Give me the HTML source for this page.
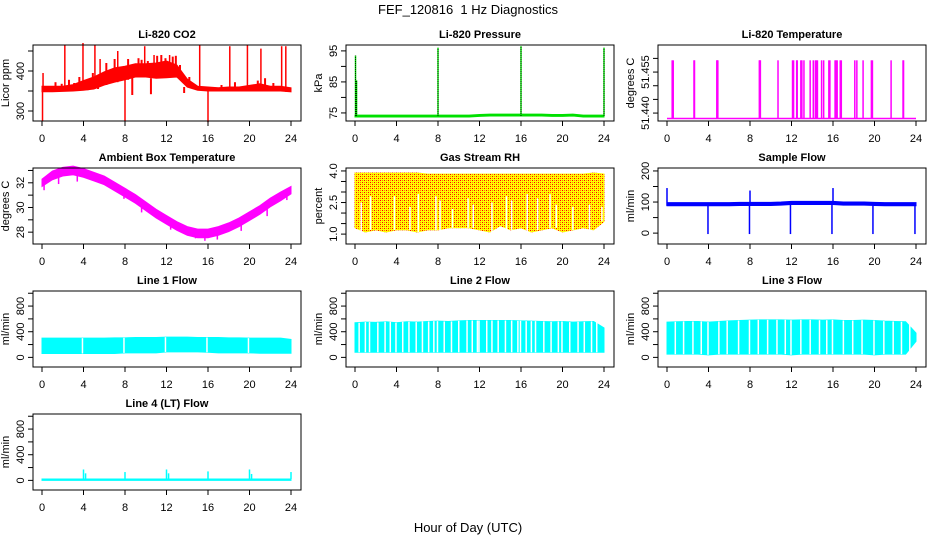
<!DOCTYPE html>
<html><head><meta charset="utf-8"><style>
html,body{margin:0;padding:0;background:#fff}
svg{display:block;font-family:"Liberation Sans",sans-serif}
</style></head><body>
<svg id="c" width="936" height="540" viewBox="0 0 936 540">
<defs>
<pattern id="rhpat" width="4" height="4" patternUnits="userSpaceOnUse">
<rect width="4" height="4" fill="#ffff00"/>
<rect x="0" y="0" width="1" height="1" fill="#ff0000"/><rect x="2" y="2" width="1" height="1" fill="#ff0000"/>
<rect x="2" y="0" width="1" height="1" fill="#ff8000"/><rect x="0" y="2" width="1" height="1" fill="#ff8000"/>
</pattern>
</defs>
<text x="468" y="14" text-anchor="middle" font-size="13">FEF_120816&#160;&#160;1 Hz Diagnostics</text>
<text x="468" y="532" text-anchor="middle" font-size="13">Hour of Day (UTC)</text>
</svg>
<script>
// ---- data arrays ----
const hours = [0,1,2,3,4,5,6,7,8,9,10,11,12,13,14,15,16,17,18,19,20,21,22,23,24];
const xTicks = [0,4,8,12,16,20,24];
// CO2
const co2Low  = [348,348,349,350,352,355,365,372,378,385,385,382,383,385,360,352,350,350,350,350,350,350,350,350,348];
const co2High = [362,362,362,366,376,385,398,408,412,418,418,420,425,415,380,362,360,358,360,360,364,368,362,362,358];
const co2SpikeHours = [0.1,0.05,2.2,3.95,5.1,5.6,7.3,8.0,9.9,10.8,12.3,15.2,16.0,18.1,19.8,21.1,23.1,23.5];
const co2SpikeVals  = [395,275,465,470,465,430,450,275,462,440,440,465,272,462,466,456,462,462];
const co2NoiseHours = [1.3,1.9,2.6,3.1,3.6,4.4,4.9,5.4,6.2,6.6,7.0,7.6,8.3,8.7,9.3,9.6,10.2,10.5,11.1,11.5,11.9,12.6,12.9,13.3,13.7,14.2,17.3,18.6,20.8,21.5,22.3];
const co2NoiseVals  = [372,368,378,370,385,380,395,360,420,395,430,410,430,340,432,428,425,342,438,440,432,436,438,415,345,385,365,372,376,382,370];
// Pressure
const presBase = [74,74,74,74,74,74,74,74,74,74,74,74,74.2,74.3,74.3,74.3,74.3,74.3,74.3,74.2,74.2,74.3,74,74,74];
const presSpikeHours = [0.05,0.15,8.0,16.0,24.0];
const presSpikeVals  = [93.5,85.5,96,96.5,96];
// Li-820 temperature
const tempBase = 51.438;
const tempSpikeHours = [0.5,0.6,2.6,2.65,4.8,4.85,4.9,8.9,8.95,9.0,10.7,12.1,12.2,12.5,12.55,12.9,13.0,13.2,13.8,14.1,14.3,14.4,14.5,14.9,15.1,15.6,15.7,16.2,16.3,16.4,16.7,16.8,18.1,18.3,18.9,19.7,19.8,21.6,22.75,22.8];
const tempSpikeVal = 51.4593;
// Ambient box temperature
const ambCenter = [32.0,32.6,32.9,33.0,32.8,32.5,32.2,31.7,31.2,30.7,30.1,29.5,29.0,28.5,28.1,27.9,27.9,28.1,28.4,28.8,29.3,29.8,30.4,30.9,31.4];
const ambHalf = [0.3,0.35,0.35,0.35,0.35,0.35,0.35,0.35,0.35,0.35,0.35,0.35,0.35,0.35,0.35,0.35,0.35,0.35,0.35,0.35,0.35,0.35,0.35,0.35,0.3];
const ambDipHours = [0.2,1.6,3.4,7.9,9.6,12.4,14.8,15.7,16.9,19.2,21.7,23.6];
const ambDipVals  = [31.4,31.9,32.1,30.7,29.6,28.2,27.5,27.3,27.4,28.1,29.3,30.6];
// Gas stream RH
const rhLow  = [1.3,1.1,1.2,1.1,1.2,1.2,1.1,1.2,1.2,1.3,1.3,1.3,1.2,1.1,1.4,1.2,1.3,1.1,1.2,1.3,1.1,1.2,1.3,1.2,1.6];
const rhHigh = [3.9,3.9,3.9,3.9,3.9,3.9,3.9,3.85,3.85,3.85,3.85,3.85,3.85,3.85,3.85,3.85,3.85,3.85,3.85,3.85,3.85,3.85,3.85,3.9,3.85];
const rhGapHours = [0.6,1.5,3.8,5.3,6.1,7.8,8.2,9.4,10.9,11.4,13.2,14.6,15.1,16.6,17.6,18.8,19.4,21.0,22.6,23.8];
const rhGapTops  = [2.5,2.8,2.8,2.3,2.9,2.8,2.6,2.2,2.7,2.4,2.5,2.8,2.6,2.9,2.7,2.9,2.4,2.3,2.4,2.3];
// Sample flow
const sfLow  = [88,88,88,88,88,88,88,89,89,89,89,90,92,92,92,92,92,90,90,90,89,88,88,88,88];
const sfHigh = [98,98,98,98,98,98,98,99,99,99,99,100,102,102,102,102,102,100,100,100,99,98,98,98,98];
const sfSpikeHours = [0.0,8.0,16.0,3.95,7.95,11.9,15.9,19.85,23.9];
const sfSpikeVals  = [145,137,145,-3,-3,-3,-3,-3,-3];
// Line flows
const l1Low  = [60,60,60,60,60,60,60,60,70,70,70,70,85,85,85,85,80,70,70,70,70,65,65,65,65];
const l1High = [300,300,300,300,300,300,300,305,305,310,310,310,315,315,315,310,310,310,305,305,300,300,300,300,280];
const l1GapHours = [3.9,7.9,11.9,15.9,19.9];
const l2Low  = [80,80,80,80,80,80,80,80,80,80,80,80,80,80,80,80,80,80,80,80,80,80,80,80,80];
const l2High = [540,550,545,555,540,555,550,560,565,560,570,575,575,575,575,575,570,565,560,555,560,550,555,560,460];
const l2GapHours = [0.4,1.0,1.4,2.2,2.9,3.4,3.95,4.6,5.2,5.9,6.5,7.1,7.6,7.95,8.6,9.3,10.0,10.8,11.3,11.8,11.95,12.7,13.2,13.8,14.5,15.1,15.7,15.95,16.5,17.0,17.4,18.2,18.9,19.6,19.95,20.7,21.5,22.1,22.8,23.3];
const l3Low  = [50,50,50,50,40,50,50,50,50,50,50,50,40,50,50,50,50,50,50,50,40,50,50,50,250];
const l3High = [550,555,560,560,550,560,570,575,580,585,585,585,580,585,585,580,585,575,575,580,575,565,560,555,380];
const l3GapHours = [0.8,1.6,2.5,3.3,3.95,5.0,5.8,6.9,7.95,8.8,9.7,10.6,11.4,11.95,12.9,13.8,14.7,15.4,15.95,17.0,17.9,18.8,19.95,20.9,21.8,22.6,23.4];
const l4Low  = [0,0,0,0,0,0,0,0,0,0,0,0,0,0,0,0,0,0,0,0,0,0,0,0,0];
const l4High = [22,22,22,22,22,22,22,22,22,22,22,22,22,22,22,22,22,22,22,22,22,22,22,22,22];
const l4SpikeHours = [4.0,4.2,8.0,12.0,12.2,16.0,20.0,20.2,24.0];
const l4SpikeVals  = [170,110,130,170,110,140,170,100,130];

// ---- drawing ----
const NS = 'http://www.w3.org/2000/svg';
const svg = document.getElementById('c');
function mk(tag, attrs, parent){
  const e = document.createElementNS(NS, tag);
  for (const k in attrs) e.setAttribute(k, attrs[k]);
  (parent||svg).appendChild(e);
  return e;
}
const colLeft = [33,346,658];
const rowTop = [45,168,291,414];
const boxW = 268, boxH = 76;

function panel(name, col, row, title, ylab, ylim, yt, ylabels){
  const L = colLeft[col], T = rowTop[row], R = L+boxW, B = T+boxH;
  const g = mk('g', {});
  
  
  const x0 = L+9, x1 = R-10;
  const sx = h => x0 + (h/24)*(x1-x0);
  const sy = v => B - (v-ylim[0])/(ylim[1]-ylim[0])*boxH;
  const plot = mk('g', {}, g);
  
  
  const box = mk('rect', {x:L, y:T, width:boxW, height:boxH, fill:'none', stroke:'#000', 'stroke-width':1}, g);
  
  
  const t = mk('text', {x:(L+R)/2, y:T-7, 'text-anchor':'middle', 'font-size':11, 'font-weight':'bold'}, g);
  t.textContent = title;
  
  
  const xa = mk('g', {}, g);
  
  
  xTicks.forEach(h => {
    mk('line', {x1:sx(h), x2:sx(h), y1:B, y2:B+5, stroke:'#000'}, xa);
    const tl = mk('text', {x:sx(h), y:B+21, 'text-anchor':'middle', 'font-size':11}, xa);
    tl.textContent = String(h);
    
    
  });
  const ya = mk('g', {}, g);
  
  
  mk('line', {x1:L, x2:L, y1:sy(yt[0]), y2:sy(yt[yt.length-1]), stroke:'#000'}, ya);
  yt.forEach(v => mk('line', {x1:L-5, x2:L, y1:sy(v), y2:sy(v), stroke:'#000'}, ya));
  ylabels.forEach(v => {
    const yy = sy(v);
    const tl = mk('text', {x:L-9, y:yy, 'text-anchor':'middle', 'font-size':11, transform:`rotate(-90 ${L-9} ${yy})`}, ya);
    tl.textContent = name==='li820-temperature' ? v.toFixed(3) : (name==='gas-stream-rh' ? v.toFixed(1) : String(v));
    
    
  });
  const yl = mk('text', {x:L-24, y:(T+B)/2, 'text-anchor':'middle', 'font-size':11, transform:`rotate(-90 ${L-24} ${(T+B)/2})`}, ya);
  yl.textContent = ylab;
  
  
  return {sx, sy, plot};
}
function band(p, lo, hi, fill){
  let pts = hours.map((h,i)=>p.sx(h)+','+p.sy(hi[i]));
  pts = pts.concat(hours.slice().reverse().map((h,j)=>{const i=hours.length-1-j; return p.sx(h)+','+p.sy(lo[i]);}));
  const e = mk('polygon', {points:pts.join(' '), fill:fill, stroke:fill, 'stroke-width':1}, p.plot);
  
  
}
function spikes(p, hs, vs, base, color, w){
  hs.forEach((h,i)=>{
    const b = Array.isArray(base) ? base[Math.round(h)] : base;
    const e = mk('line', {x1:p.sx(h), x2:p.sx(h), y1:p.sy(b), y2:p.sy(vs[i]), stroke:color, 'stroke-width':w||1.5}, p.plot);
    
    
  });
}
function gaps(p, hs, lo, hi, tops){
  hs.forEach((h,i)=>{
    const k = Math.round(h);
    const top = tops ? tops[i] : hi[k];
    const e = mk('line', {x1:p.sx(h), x2:p.sx(h), y1:p.sy(lo[k]), y2:p.sy(top), stroke:'#fff', 'stroke-width':1.5}, p.plot);
    
    
  });
}

let p = panel('li820-co2',0,0,'Li-820 CO2','Licor ppm',[275,465],[300,350,400,450],[300,400]);
band(p, co2Low, co2High, '#ff0000');
spikes(p, co2NoiseHours, co2NoiseVals, co2Low, '#ff0000', 2);
spikes(p, co2SpikeHours, co2SpikeVals, co2Low, '#ff0000', 1.5);

p = panel('li820-pressure',1,0,'Li-820 Pressure','kPa',[72.4,96.9],[75,80,85,90,95],[75,85,95]);
band(p, presBase.map(v=>v-0.3), presBase.map(v=>v+0.3), '#00e000');
spikes(p, presSpikeHours, presSpikeVals, presBase, '#00e000', 1.5);
presSpikeHours.forEach((h,i)=>{
  const e = mk('line',{x1:p.sx(h),x2:p.sx(h),y1:p.sy(74),y2:p.sy(presSpikeVals[i]),stroke:'#000','stroke-width':0.8,'stroke-dasharray':'1 1'},p.plot);
  
  
});

p = panel('li820-temperature',2,0,'Li-820 Temperature','degrees C',[51.4371,51.4649],[51.440,51.445,51.450,51.455,51.460],[51.440,51.455]);
{
  const e = mk('line',{x1:p.sx(0),x2:p.sx(24),y1:p.sy(tempBase),y2:p.sy(tempBase),stroke:'#ff00ff','stroke-width':1.5},p.plot);
  
  
}
spikes(p, tempSpikeHours, tempSpikeHours.map(()=>tempSpikeVal), tempBase, '#ff00ff', 1.5);

p = panel('ambient-box-temperature',0,1,'Ambient Box Temperature','degrees C',[27.04,33.2],[28,29,30,31,32,33],[28,30,32]);
band(p, ambCenter.map((v,i)=>v-ambHalf[i]), ambCenter.map((v,i)=>v+ambHalf[i]), '#ff00ff');
spikes(p, ambDipHours, ambDipVals, ambCenter, '#ff00ff', 1.5);

p = panel('gas-stream-rh',1,1,'Gas Stream RH','percent',[0.53,4.14],[1.0,1.5,2.0,2.5,3.0,3.5,4.0],[1.0,2.5,4.0]);
band(p, rhLow, rhHigh, 'url(#rhpat)');
gaps(p, rhGapHours, rhLow, rhHigh, rhGapTops);

p = panel('sample-flow',2,1,'Sample Flow','ml/min',[-35,209.5],[0,50,100,150,200],[0,100,200]);
band(p, sfLow, sfHigh, '#0000ff');
spikes(p, sfSpikeHours, sfSpikeVals, sfLow, '#0000ff', 1.5);

const flowLim = [-150,1035], flowTicks=[0,200,400,600,800,1000], flowLabels=[0,400,800];
p = panel('line-1-flow',0,2,'Line 1 Flow','ml/min',flowLim,flowTicks,flowLabels);
band(p, l1Low, l1High, '#00ffff'); gaps(p, l1GapHours, l1Low, l1High);
p = panel('line-2-flow',1,2,'Line 2 Flow','ml/min',flowLim,flowTicks,flowLabels);
band(p, l2Low, l2High, '#00ffff'); gaps(p, l2GapHours, l2Low, l2High);
p = panel('line-3-flow',2,2,'Line 3 Flow','ml/min',flowLim,flowTicks,flowLabels);
band(p, l3Low, l3High, '#00ffff'); gaps(p, l3GapHours, l3Low, l3High);
p = panel('line-4-lt-flow',0,3,'Line 4 (LT) Flow','ml/min',flowLim,flowTicks,flowLabels);
band(p, l4Low, l4High, '#00ffff');
spikes(p, l4SpikeHours, l4SpikeVals, l4High, '#00ffff', 1.5);
</script>
</body></html>
